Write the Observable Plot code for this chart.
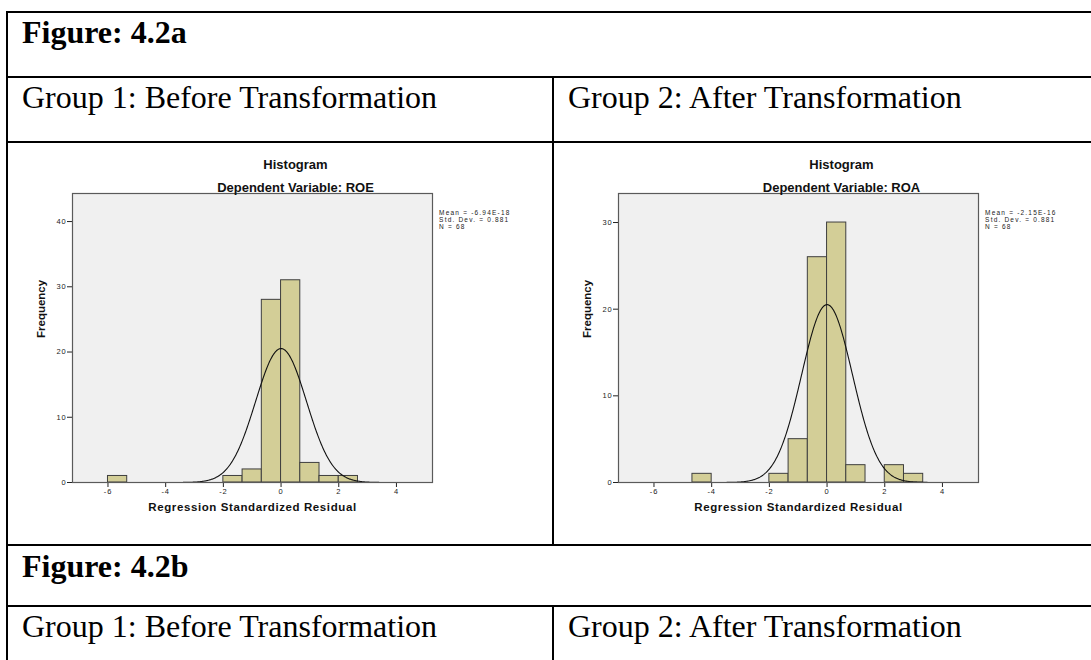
<!DOCTYPE html>
<html>
<head>
<meta charset="utf-8">
<script src="https://cdn.jsdelivr.net/npm/d3@7"></script>
<script src="https://cdn.jsdelivr.net/npm/@observablehq/plot@0.6"></script>
<style>
  html, body { margin: 0; padding: 0; background: #fff; }
  #page { position: relative; width: 1091px; height: 660px; overflow: hidden; background: #fff; }
  .chart { position: absolute; top: 142px; width: 546px; height: 403px; }
  #c1 { left: 7px; }
  #c2 { left: 553px; }
  #table { position: absolute; left: 0; top: 0; }
  .chart svg g[aria-label$="tick label"] text { letter-spacing: 0.8px; }
</style>
</head>
<body>
<div id="page">
  <div id="c1" class="chart"></div>
  <div id="c2" class="chart"></div>
  <svg id="table" width="1091" height="660">
    <g stroke="#000" stroke-width="2" fill="none">
      <path d="M6,12H1100"/>
      <path d="M7,11V660"/>
      <path d="M6,77H1100"/>
      <path d="M6,142H1100"/>
      <path d="M6,545H1100"/>
      <path d="M6,606H1100"/>
      <path d="M553,77V545"/>
      <path d="M553,606V660"/>
    </g>
    <g font-family="'Liberation Serif','Times New Roman',serif" font-size="32" fill="#000">
      <text x="22" y="43" font-weight="bold">Figure: 4.2a</text>
      <text x="22" y="108">Group 1: Before Transformation</text>
      <text x="568" y="108">Group 2: After Transformation</text>
      <text x="22" y="577" font-weight="bold">Figure: 4.2b</text>
      <text x="22" y="637">Group 1: Before Transformation</text>
      <text x="568" y="637">Group 2: After Transformation</text>
    </g>
  </svg>
</div>
<script>
// ---- data ----
const binWidth = 2 / 3;
const xTicks = [-6, -4, -2, 0, 2, 4];

// Group 1 (ROE)
const roeBinStarts = [-6, -2, -4/3, -2/3, 0, 2/3, 4/3, 2];
const roeCounts    = [1, 1, 2, 28, 31, 3, 1, 1];
const roeYTicks    = [0, 10, 20, 30, 40];
const roeStats     = { mean: -6.94e-18, sd: 0.881, n: 68 };
const roeStatLines = ["Mean = -6.94E-18", "Std. Dev. = 0.881", "N = 68"];

// Group 2 (ROA)
const roaBinStarts = [-14/3, -2, -4/3, -2/3, 0, 2/3, 2, 8/3];
const roaCounts    = [1, 1, 5, 26, 30, 2, 2, 1];
const roaYTicks    = [0, 10, 20, 30];
const roaStats     = { mean: -2.15e-16, sd: 0.881, n: 68 };
const roaStatLines = ["Mean = -2.15E-16", "Std. Dev. = 0.881", "N = 68"];

const xDomain = [-7.23, 5.25];

function histogram(binStarts, counts, yMax, yTicks, depVar, stats, statLines) {
  const bars = binStarts.map((x0, i) => ({ x0, x1: x0 + binWidth, n: counts[i] }));
  // SPSS normal curve defined by the displayed mean, std. dev. and N
  const curve = d3.range(xDomain[0], xDomain[1] + 1e-9, 0.02).map(x => ({
    x,
    y: stats.n * binWidth * Math.exp(-0.5 * ((x - stats.mean) / stats.sd) ** 2) / (stats.sd * Math.sqrt(2 * Math.PI))
  }));
  const svg = Plot.plot({
    width: 546,
    height: 403,
    marginLeft: 65,
    marginRight: 121,
    marginTop: 51,
    marginBottom: 63,
    style: { fontFamily: "'Liberation Sans', Arial, sans-serif", fontSize: "7.5px", background: "transparent", color: "#222", overflow: "visible" },
    x: { domain: xDomain, ticks: xTicks, tickSize: 5, tickPadding: 1.5, label: null, tickFormat: d => String(d) },
    y: { domain: [0, yMax], ticks: yTicks, tickSize: 5, tickPadding: 1, label: null, tickFormat: d => String(d) },
    marks: [
      Plot.frame({ fill: "#f0f0f0", stroke: null }),
      Plot.rect(bars, { x1: "x0", x2: "x1", y1: 0, y2: "n", fill: "#d3ce97", stroke: "#3f3f3f", strokeWidth: 1 }),
      Plot.line(curve, { x: "x", y: "y", stroke: "#111", strokeWidth: 1.1 }),
      Plot.frame({ stroke: "#5a5a5a", strokeWidth: 1.2 }),
      Plot.text(["Histogram"], { text: d => d, frameAnchor: "top", dx: 43, dy: -33.3, fontWeight: "bold", fontSize: 13, fill: "#111" }),
      Plot.text(["Dependent Variable: " + depVar], { text: d => d, frameAnchor: "top", dx: 43, dy: -10.3, fontWeight: "bold", fontSize: 13, fill: "#111" }),
      Plot.text(["Frequency"], { text: d => d, frameAnchor: "left", dx: -31.5, rotate: -90, fontWeight: "bold", fontSize: 11.5, fill: "#111" }),
      Plot.text(["Regression Standardized Residual"], { text: d => d, frameAnchor: "bottom", dy: 28.7, fontWeight: "bold", fontSize: 11.5, fill: "#111" }),
      Plot.text([statLines.join("\n")], { text: d => d, frameAnchor: "top-right", textAnchor: "start", lineAnchor: "top", dx: 6.6, dy: 16, fontSize: 6.5, lineHeight: 1.12, fill: "#222" })
    ]
  });
  d3.select(svg).selectAll("text")
    .filter(function () { return this.textContent === "Regression Standardized Residual"; })
    .attr("letter-spacing", "0.6px");
  d3.select(svg).selectAll("text")
    .filter(function () { return this.textContent.startsWith("Mean") || this.textContent.startsWith("Std") || this.textContent.startsWith("N ="); })
    .attr("letter-spacing", "1.2px");
  return svg;
}

document.getElementById("c1").appendChild(
  histogram(roeBinStarts, roeCounts, 44.3, roeYTicks, "ROE", roeStats, roeStatLines));
document.getElementById("c2").appendChild(
  histogram(roaBinStarts, roaCounts, 33.35, roaYTicks, "ROA", roaStats, roaStatLines));
</script>
</body>
</html>
